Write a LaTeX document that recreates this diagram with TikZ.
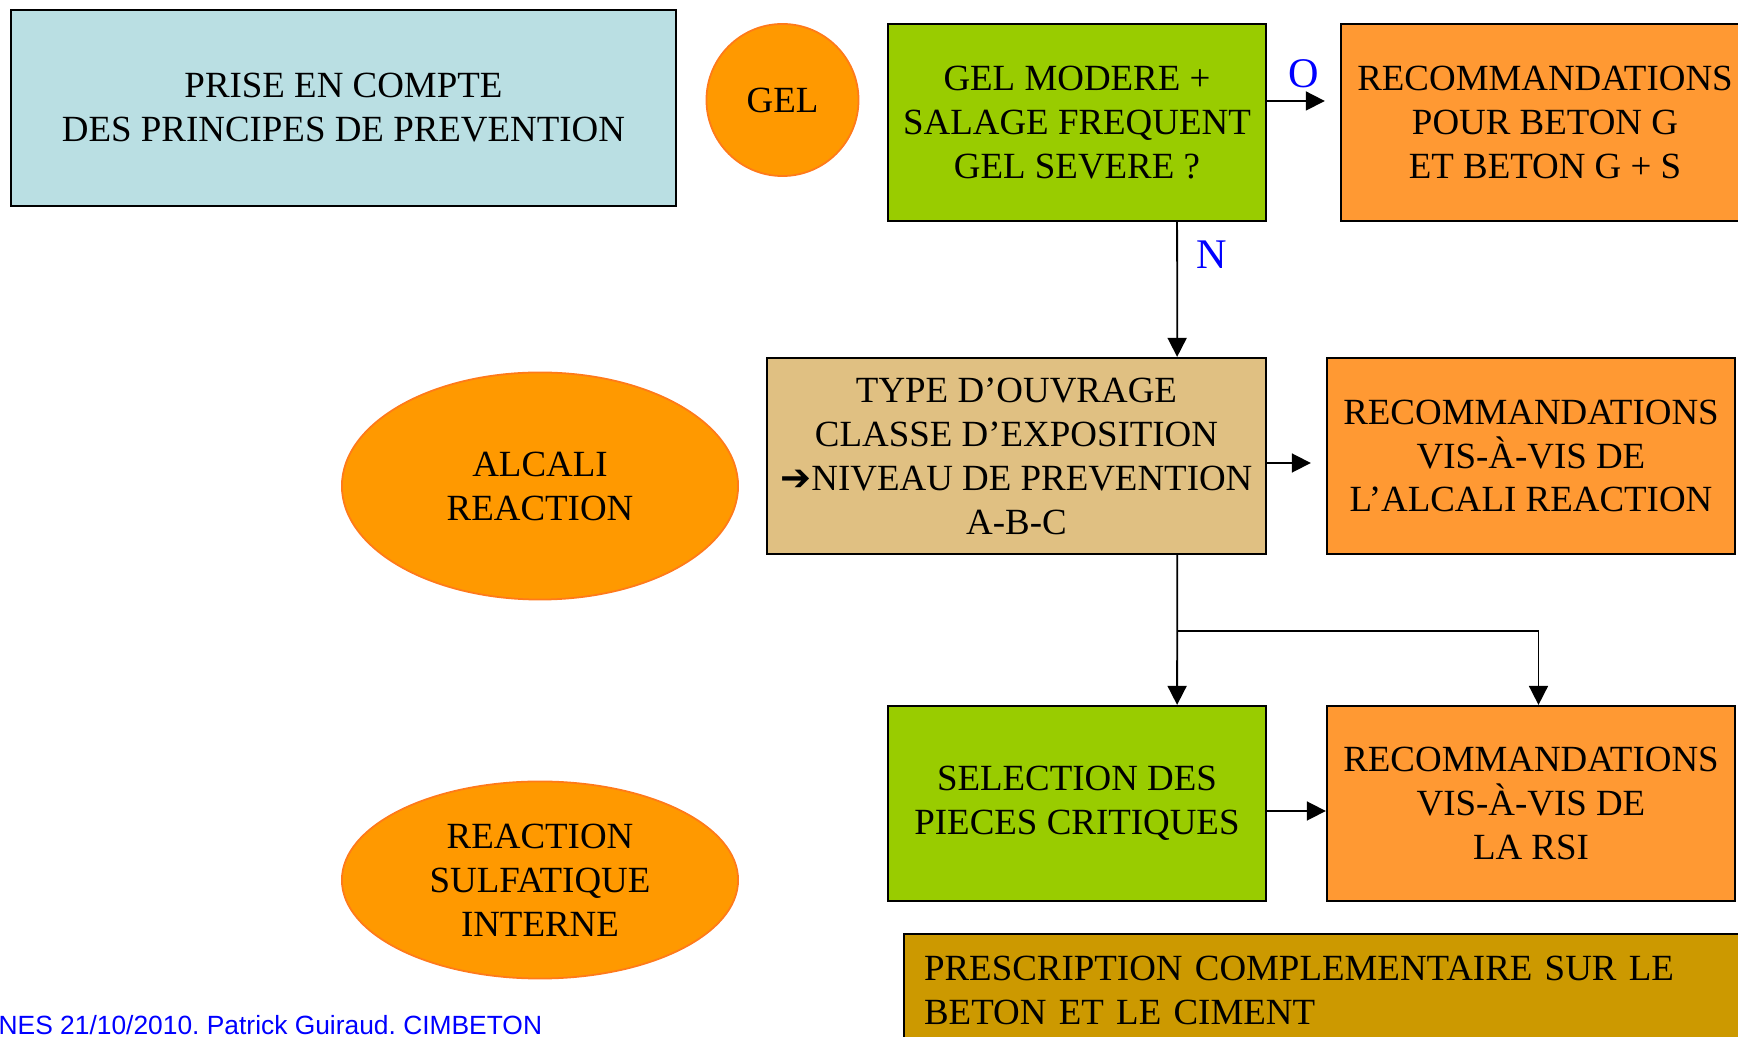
\documentclass[tikz,border=0pt]{standalone}
\usepackage{fontspec}
\setmainfont{Liberation Serif}
\newfontfamily\piedfont{Liberation Sans}
\newfontfamily\dingfont{DejaVu Sans}
\usepackage{xcolor}
\usetikzlibrary{arrows.meta,
	shapes.geometric,
	calc}
\definecolor{prisecyan}{HTML}{BADFE3}
\definecolor{gelorange}{HTML}{FF9900}
\definecolor{gelrim}{HTML}{FF7A1A}
\definecolor{choixgreen}{HTML}{99CC00}
\definecolor{recorange}{HTML}{FF9933}
\definecolor{niveautan}{HTML}{E0C082}
\definecolor{prescrgold}{HTML}{CC9900}
\newcommand{\boxfont}{\fontsize{10.5}{12.5}\selectfont}
\frenchspacing

\begin{document}
\begin{tikzpicture}[x=0.01cm, y=-0.01cm,
	box/.style={draw, line width=0.6pt, rectangle, inner sep=0pt, align=center, font=\boxfont},
	blob/.style={draw=gelrim, line width=0.5pt, fill=gelorange, ellipse, inner sep=0pt, align=center, font=\boxfont},
	link/.style={line width=0.5pt, -{Triangle[length=1.9mm, width=1.9mm]}},
	answer/.style={text=blue, font=\fontsize{12}{14}\selectfont}]
	\useasboundingbox (0,0) rectangle (1738,1037);
	\clip (0,0) rectangle (1738,1037);
	% colonne de gauche
	\node[box, fill=prisecyan, minimum width=6.65cm, minimum height=1.96cm] (prise) at (343.5,108) {PRISE EN COMPTE\\DES PRINCIPES DE PREVENTION};
	\node[blob, minimum width=1.52cm, minimum height=1.52cm] (gel) at (782.5,100) {GEL};
	\node[blob, minimum width=3.96cm, minimum height=2.27cm] (alcali) at (540,486) {ALCALI\\REACTION};
	\node[blob, minimum width=3.96cm, minimum height=1.97cm] (rsi) at (540,880) {REACTION\\SULFATIQUE\\INTERNE};
	% decisions
	\node[box, fill=choixgreen, minimum width=3.78cm, minimum height=1.97cm] (gelq) at (1077,122.5) {GEL MODERE +\\SALAGE FREQUENT\\GEL SEVERE ?};
	\node[box, fill=niveautan, minimum width=4.99cm, minimum height=1.96cm] (niveau) at (1016.5,456) {TYPE D’OUVRAGE\\CLASSE D’EXPOSITION\\{\dingfont\bfseries ➔}NIVEAU DE PREVENTION\\A-B-C};
	\node[box, fill=choixgreen, minimum width=3.78cm, minimum height=1.95cm] (pieces) at (1077,803.5) {SELECTION DES\\PIECES CRITIQUES};
	% recommandations
	\node[box, fill=recorange, minimum width=4.08cm, minimum height=1.97cm] (recgel) at (1545,122.5) {RECOMMANDATIONS\\POUR BETON G\\ET BETON G + S};
	\node[box, fill=recorange, minimum width=4.08cm, minimum height=1.96cm] (recalcali) at (1531,456) {RECOMMANDATIONS\\VIS-À-VIS DE\\L’ALCALI REACTION};
	\node[box, fill=recorange, minimum width=4.08cm, minimum height=1.95cm] (recrsi) at (1531,803.5) {RECOMMANDATIONS\\VIS-À-VIS DE\\LA RSI};
	\node[box, fill=prescrgold, anchor=north west, align=left, text width=8.2cm, inner xsep=0.2cm, minimum height=1.12cm] (prescr) at (903,933) {PRESCRIPTION COMPLEMENTAIRE SUR LE\\BETON ET LE CIMENT};
	\node[anchor=base west, inner sep=0pt, text=blue, font=\piedfont\fontsize{7.5}{9}\selectfont] (pied) at (-2,1035) {NES 21/10/2010. Patrick Guiraud. CIMBETON};
	% fleches
	\draw[link, shorten >=0.15cm] ([yshift=0.215cm]gelq.east) -- node[answer, midway, above]{O} ([yshift=0.215cm]recgel.west);
	\draw[link] ([xshift=-0.9cm]gelq.south east) -- node[answer, pos=0.24, right=2pt]{N} ([xshift=-0.9cm]niveau.north east);
	\draw[link, shorten >=0.15cm] ([yshift=-0.07cm]niveau.east) -- ([yshift=-0.07cm]recalcali.west);
	\coordinate (fourche) at ($([xshift=-0.9cm]niveau.south east)+(0,76)$);
	\draw[link] ([xshift=-0.9cm]niveau.south east) -- ([xshift=-0.9cm]pieces.north east);
	\draw[link] (fourche) -| ([xshift=0.075cm]recrsi.north);
	\draw[link] ([yshift=-0.075cm]pieces.east) -- ([yshift=-0.075cm]recrsi.west);
\end{tikzpicture}
\end{document}
